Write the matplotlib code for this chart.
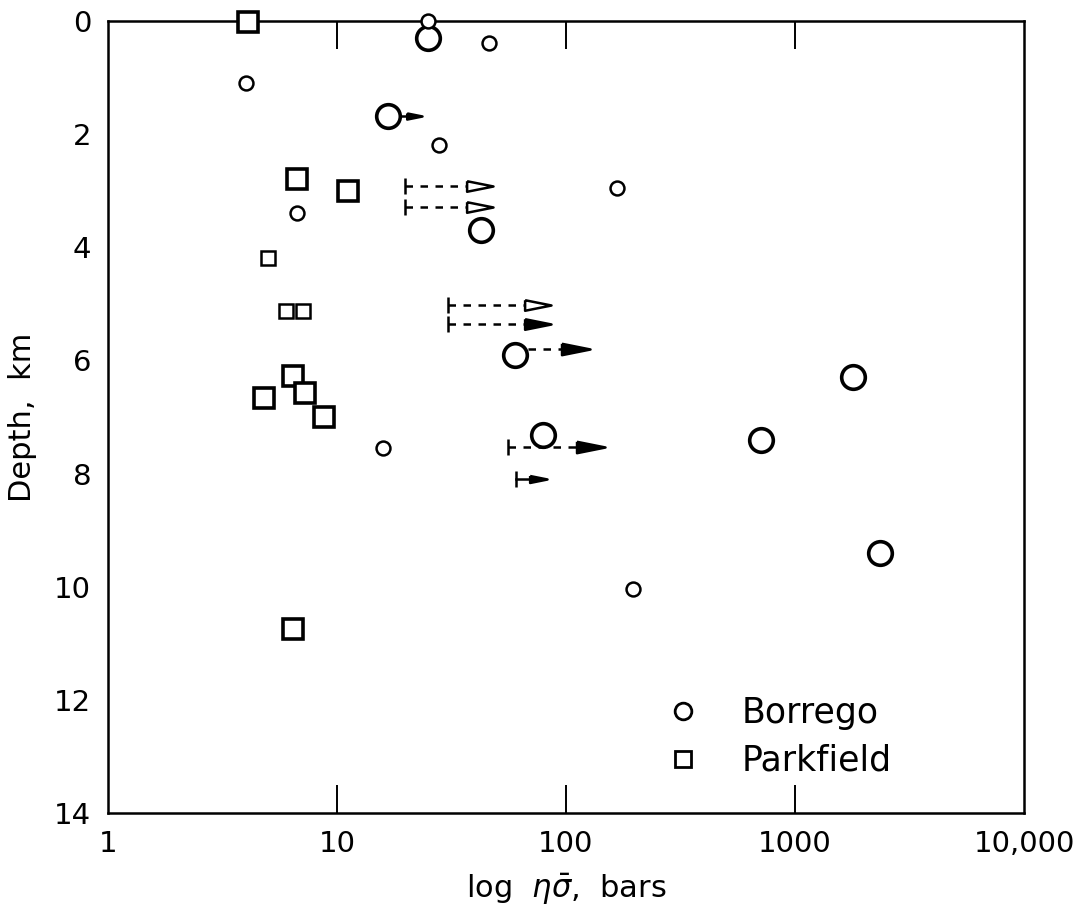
import numpy as np
import matplotlib
matplotlib.use('Agg')
from matplotlib import pyplot as plt
from matplotlib.lines import Line2D

# Borrego, large circles
bor_big_x = [25, 16.7, 42.5, 60, 79.6, 1790, 711, 2350]
bor_big_y = [0.3, 1.68, 3.69, 5.9, 7.31, 6.29, 7.4, 9.4]
# Borrego, small circles
bor_small_x = [25, 46, 4.0, 27.9, 6.7, 167, 15.9, 196]
bor_small_y = [0.0, 0.39, 1.1, 2.19, 3.39, 2.95, 7.54, 10.04]
# Parkfield, large squares
park_big_x = [4.1, 6.7, 11.2, 6.4, 7.25, 4.8, 8.8, 6.4]
park_big_y = [0.02, 2.79, 3.0, 6.27, 6.57, 6.66, 7.0, 10.74]
# Parkfield, small squares
park_small_x = [5.0, 6.0, 7.1]
park_small_y = [4.19, 5.12, 5.12]

# lower-bound arrows: start, tip, depth
arr_start = [19.2, 19.8, 19.8, 30.5, 30.5, 68, 56, 60.4]
arr_tip = [23.5, 48, 48, 86, 86, 127, 148, 82.6]
arr_depth = [1.68, 2.92, 3.29, 5.02, 5.35, 5.8, 7.53, 8.1]
arr_bar = [False, True, True, True, True, False, True, True]
arr_dash = [False, True, True, True, True, True, True, False]
arr_open = [False, True, True, True, False, False, False, False]
arr_head = [22, 38, 38, 38, 38, 41, 41, 25]

xticks = [1, 10, 100, 1000, 10000]
xticklabels = ['1', '10', '100', '1000', '10,000']
yticks = [0, 2, 4, 6, 8, 10, 12, 14]

head = [(-1, 0.2), (0, 0), (-1, -0.2), (-1, 0.2)]

fig = plt.figure(figsize=(10.85, 9.15), dpi=100)
ax = fig.add_axes([0.0995, 0.1115, 0.8443, 0.8655])
ax.set_xscale('log')
ax.set_xlim(1, 10000)
ax.set_ylim(14, 0)

for s, t, d, bar, dash, op, hs in zip(arr_start, arr_tip, arr_depth, arr_bar,
                                       arr_dash, arr_open, arr_head):
    ax.plot([s, t * 0.85], [d, d], color='k', lw=1.8,
            ls=(0, (3, 3)) if dash else '-', zorder=2)
    ax.plot([t], [d], marker=head, ms=hs, color='k', mew=1.8,
            mfc='white' if op else 'k', zorder=3)
    if bar:
        ax.plot([s], [d], marker='|', ms=11, mew=1.8, color='k', zorder=3)

ax.plot(bor_big_x, bor_big_y, 'o', ms=17, mfc='white', mec='k', mew=2.6,
        clip_on=False, zorder=4)
ax.plot(bor_small_x, bor_small_y, 'o', ms=10, mfc='white', mec='k', mew=1.8,
        clip_on=False, zorder=4)
ax.plot(park_big_x, park_big_y, 's', ms=15, mfc='white', mec='k', mew=2.6,
        clip_on=False, zorder=4)
ax.plot(park_small_x, park_small_y, 's', ms=9.5, mfc='white', mec='k', mew=1.8,
        clip_on=False, zorder=4)

ax.set_xticks(xticks)
ax.set_xticklabels(xticklabels)
ax.set_yticks(yticks)
ax.minorticks_off()
ax.tick_params(axis='both', direction='in', length=20, width=1.4,
               labelsize=21, pad=12, top=True, right=True)
for t in ax.yaxis.get_major_ticks():
    if t.get_loc() in (0, 14):
        t.tick1line.set_visible(False)
        t.tick2line.set_visible(False)
for t in ax.xaxis.get_major_ticks():
    if t.get_loc() in (1, 10000):
        t.tick1line.set_visible(False)
        t.tick2line.set_visible(False)
for sp in ax.spines.values():
    sp.set_linewidth(1.8)

ax.set_xlabel(r'log  $\eta\bar{\sigma}$,  bars', fontsize=22, labelpad=10)
ax.set_ylabel('Depth,  km', fontsize=22, labelpad=12)

handles = [Line2D([], [], ls='none', marker='o', ms=12, mfc='white', mec='k', mew=2),
           Line2D([], [], ls='none', marker='s', ms=11, mfc='white', mec='k', mew=2)]
ax.legend(handles, ['Borrego', 'Parkfield'], loc='lower right', frameon=False,
          fontsize=25, bbox_to_anchor=(0.89, 0.005), handletextpad=0.7,
          labelspacing=0.4)

fig.savefig('out.png', dpi=100)
